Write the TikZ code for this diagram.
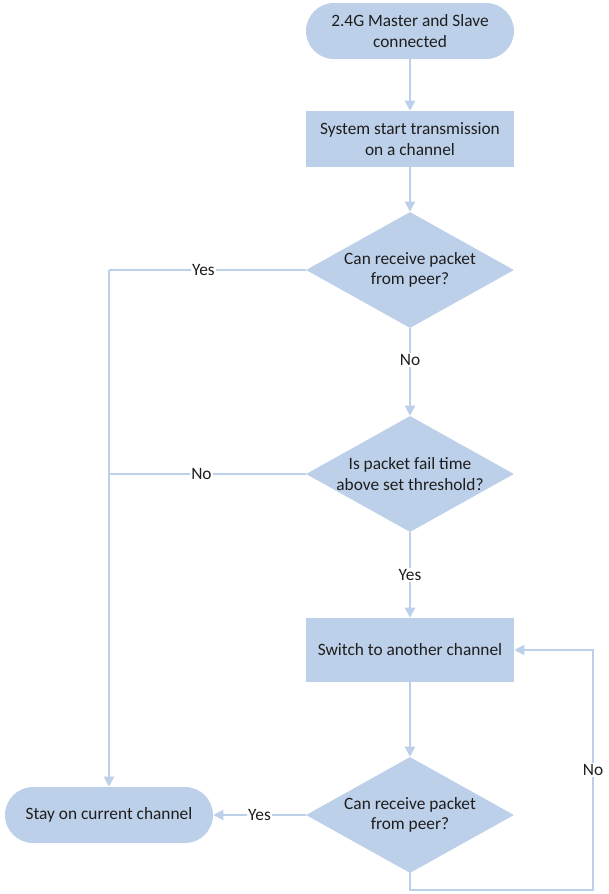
\documentclass[tikz,border=0pt]{standalone}
\usepackage{fontspec}
\setmainfont{Carlito}
\usetikzlibrary{shapes.geometric, arrows.meta, positioning}
\definecolor{flowblue}{HTML}{BDD0E9}
\definecolor{inkgrey}{HTML}{1E1E1E}

\begin{document}
\begin{tikzpicture}[x=0.75pt, y=-0.75pt, font=\fontsize{13}{15.5}\selectfont, text=inkgrey,
  terminal/.style={rectangle, rounded corners=21pt, fill=flowblue, minimum width=156pt, minimum height=42pt, inner sep=0pt, align=center},
  process/.style={rectangle, fill=flowblue, minimum width=156pt, minimum height=42pt, align=center},
  decision/.style={diamond, aspect=1.8, fill=flowblue, minimum width=156pt, minimum height=87pt, inner sep=0pt, align=center},
  link/.style={draw=flowblue, line width=1.5pt, -{Triangle[length=7.5pt,width=7.5pt]}},
  wire/.style={draw=flowblue, line width=1.5pt},
  tag/.style={fill=white, inner sep=1pt}]
  \useasboundingbox (0,0) rectangle (609,894);

  % Main column
  \node[terminal] (start) at (410,31) {2.4G Master and Slave\\connected};
  \node[process] (sys) at (410,139) {System start transmission\\on a channel};
  \node[decision] (ask1) at (410,270) {Can receive packet\\from peer?};
  \node[decision] (ask2) at (410,474) {Is packet fail time\\above set threshold?};
  \node[process, minimum height=48pt] (switch) at (410,650) {Switch to another channel};
  \node[decision] (ask3) at (410,815) {Can receive packet\\from peer?};

  % Left result
  \node[terminal] (stay) at (109,815) {Stay on current channel};

  % Helper points
  \coordinate (lcol) at (109,270);
  \coordinate (ljoin) at (109,474);
  \coordinate (loopbot) at (593,890);

  % Connectors
  \draw[link] (start) -- (sys);
  \draw[link] (sys) -- (ask1);
  \draw[link] (ask1) -- node[tag, pos=0.36] {No} (ask2);
  \draw[link] (ask2) -- node[tag] {Yes} (switch);
  \draw[link] (switch) -- (ask3);
  \draw[wire] (ask1.west) -- node[tag, pos=0.52] {Yes} (lcol);
  \draw[wire] (ask2.west) -- node[tag, pos=0.53] {No} (ljoin);
  \draw[link] (lcol) -- (stay.north);
  \draw[link] (ask3.west) -- node[tag] {Yes} (stay.east);
  \draw[link] (ask3.south) |- (loopbot) |- node[tag, pos=0.25] {No} (switch.east);
\end{tikzpicture}
\end{document}
